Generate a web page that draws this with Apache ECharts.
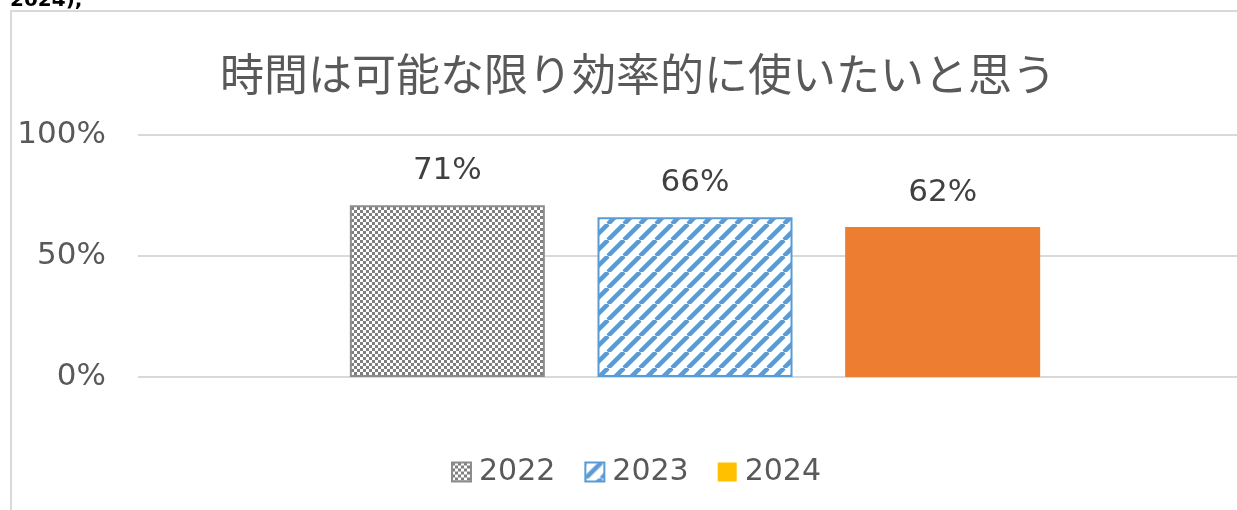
<!DOCTYPE html>
<html>
<head>
<meta charset="utf-8">
<script src="https://cdn.jsdelivr.net/npm/echarts@6/dist/echarts.min.js"></script>
<style>
html,body{margin:0;padding:0;background:#fff;}
#chart{width:1237px;height:510px;}
</style>
</head>
<body>
<div id="chart"></div>
<script>
const titleText = '時間は可能な限り効率的に使いたいと思う';
const categories = ['時間は可能な限り効率的に使いたいと思う'];
const seriesNames = ['2022', '2023', '2024'];
const values2022 = [0.71];
const values2023 = [0.66];
const values2024 = [0.62];
const yTicks = [0, 0.5, 1];
const cornerText = '2024),';

function checkerPattern() {
  const c = document.createElement('canvas');
  c.width = 6; c.height = 6;
  const g = c.getContext('2d');
  g.fillStyle = '#ffffff'; g.fillRect(0, 0, 6, 6);
  g.fillStyle = '#7f7f7f';
  g.fillRect(0, 0, 3, 3); g.fillRect(3, 3, 3, 3);
  return { image: c, repeat: 'repeat' };
}
function stripePattern() {
  const s = 16;
  const c = document.createElement('canvas');
  c.width = s; c.height = s;
  const g = c.getContext('2d');
  g.fillStyle = '#ffffff'; g.fillRect(0, 0, s, s);
  g.strokeStyle = '#5B9BD5'; g.lineWidth = 4.5;
  for (const o of [-s, 0, s]) {
    g.beginPath(); g.moveTo(o, s); g.lineTo(o + s, 0); g.stroke();
  }
  return { image: c, repeat: 'repeat' };
}

const chart = echarts.init(document.getElementById('chart'), null, { renderer: 'canvas' });
const pct = v => Math.round(v * 100) + '%';
const labelStyle = {
  show: true, position: 'top', distance: 19,
  fontFamily: '"DejaVu Sans", Verdana, sans-serif', fontSize: 31, color: '#404040',
  formatter: p => pct(p.value)
};

chart.setOption({
  animation: false,
  backgroundColor: '#ffffff',
  graphic: [
    { type: 'rect', shape: { x: 11, y: 11, width: 1400, height: 700 },
      style: { fill: null, stroke: '#d9d9d9', lineWidth: 2 }, z: -10 },
    { type: 'text', x: 10, y: 11,
      style: { text: cornerText, font: 'bold 20px "DejaVu Sans", sans-serif', fill: '#000', verticalAlign: 'bottom' } }
  ],
  title: {
    text: titleText, left: 633, top: 47, textAlign: 'center',
    textStyle: { fontFamily: '"Noto Sans CJK JP", sans-serif', fontSize: 44, fontWeight: 'normal', color: '#595959' }
  },
  legend: {
    left: 446, top: 452, icon: 'rect',
    itemWidth: 19, itemHeight: 19, itemGap: 29,
    textStyle: { fontFamily: '"DejaVu Sans", Verdana, sans-serif', fontSize: 30, color: '#595959', padding: [0, 0, 0, 3] },
    data: [
      { name: seriesNames[0] },
      { name: seriesNames[1] },
      { name: seriesNames[2], itemStyle: { color: '#FFC000' } }
    ]
  },
  grid: { left: 138, top: 135, width: 1114, bottom: 133, outerBoundsMode: 'none', containLabel: false },
  xAxis: {
    type: 'category', data: categories,
    axisLine: { show: false }, axisTick: { show: false }, axisLabel: { show: false }
  },
  yAxis: {
    type: 'value', min: yTicks[0], max: yTicks[yTicks.length - 1], interval: yTicks[1] - yTicks[0],
    axisLine: { show: false }, axisTick: { show: false },
    axisLabel: { margin: 32, fontFamily: '"DejaVu Sans", Verdana, sans-serif', fontSize: 31, color: '#595959', formatter: v => pct(v) },
    splitLine: { lineStyle: { color: '#d9d9d9', width: 2 } }
  },
  series: [
    { name: seriesNames[0], type: 'bar', data: values2022, barWidth: 195, barGap: '27%',
      itemStyle: { color: checkerPattern(), borderColor: '#8c8c8c', borderWidth: 2 }, label: labelStyle },
    { name: seriesNames[1], type: 'bar', data: values2023, barWidth: 195, barGap: '27%',
      itemStyle: { color: stripePattern(), borderColor: '#5B9BD5', borderWidth: 2 }, label: labelStyle },
    { name: seriesNames[2], type: 'bar', data: values2024, barWidth: 195, barGap: '27%',
      itemStyle: { color: '#ED7D31' }, label: labelStyle }
  ]
});
</script>
</body>
</html>
